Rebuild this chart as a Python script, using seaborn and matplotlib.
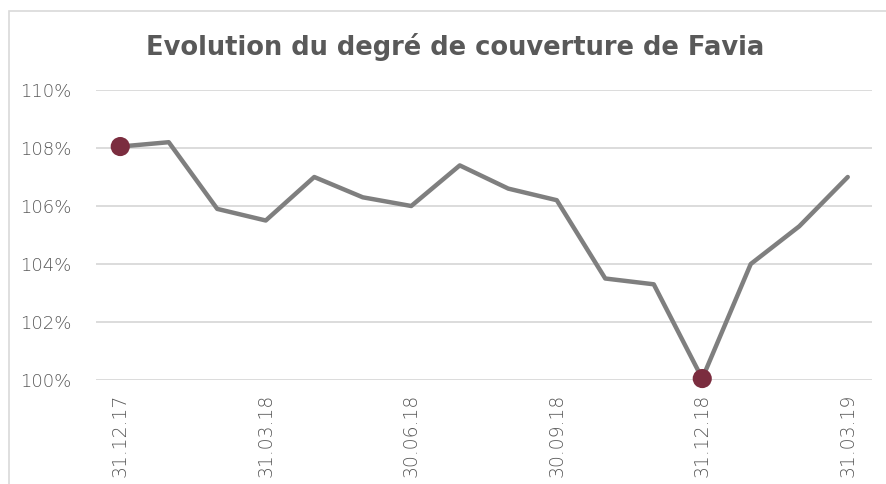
import matplotlib
matplotlib.use("Agg")
import matplotlib.pyplot as plt
import seaborn as sns
import pandas as pd
from matplotlib.patches import Rectangle
from matplotlib.ticker import FuncFormatter, MultipleLocator

months = ["31.12.17", "31.01.18", "28.02.18", "31.03.18", "30.04.18", "31.05.18",
          "30.06.18", "31.07.18", "31.08.18", "30.09.18", "31.10.18", "30.11.18",
          "31.12.18", "31.01.19", "28.02.19", "31.03.19"]
coverage = [108.05, 108.2, 105.9, 105.5, 107.0, 106.3, 106.0, 107.4, 106.6, 106.2,
            103.5, 103.3, 100.05, 104.0, 105.3, 107.0]
tick_labels = ["31.12.17", "31.03.18", "30.06.18", "30.09.18", "31.12.18", "31.03.19"]
highlight = ["31.12.17", "31.12.18"]

df = pd.DataFrame({"date": months, "value": coverage, "idx": range(len(months))})
hl = df[df["date"].isin(highlight)]

sns.set_theme(style="white")
plt.rcParams["font.family"] = ["DejaVu Sans"]

fig = plt.figure(figsize=(8.87, 4.84), dpi=100)
ax = fig.add_axes([96/887, 1-380/484, (872-96)/887, (380-90)/484])

ax.grid(axis="y", color="#d9d9d9", linewidth=1.3)
ax.set_axisbelow(True)
sns.lineplot(data=df, x="idx", y="value", ax=ax, color="#7f7f7f", linewidth=3.2,
             zorder=3)
sns.scatterplot(data=hl, x="idx", y="value", ax=ax, color="#7b2d3f", s=190,
                edgecolor="none", zorder=4, clip_on=False)

ax.set_xlim(-0.5, len(months) - 0.5)
ax.set_ylim(100, 110)
ax.yaxis.set_major_locator(MultipleLocator(2))
ax.yaxis.set_major_formatter(FuncFormatter(lambda v, p: f"{v:.0f}%"))
ticks = [months.index(t) for t in tick_labels]
ax.set_xticks(ticks)
ax.set_xticklabels(tick_labels, rotation=90, va="top", ha="center")
ax.tick_params(axis="x", colors="#595959", labelsize=13.5, length=0, pad=10)
ax.tick_params(axis="y", colors="#595959", labelsize=13, length=0, pad=18)
for lab in ax.get_xticklabels() + ax.get_yticklabels():
    lab.set_fontweight("light")
ax.set_xlabel("")
ax.set_ylabel("")
for s in ax.spines.values():
    s.set_visible(False)

fig.text(455/887, 1-47/484, "Evolution du degré de couverture de Favia",
         ha="center", va="center", fontsize=18.5, fontweight="bold", color="#595959")

fig.patches.append(Rectangle((9/887, -0.1), 1.2, 1 - 11/484 + 0.1,
                             transform=fig.transFigure, fill=False,
                             edgecolor="#d9d9d9", linewidth=1.2, zorder=0))

fig.savefig("out.png", dpi=100)
